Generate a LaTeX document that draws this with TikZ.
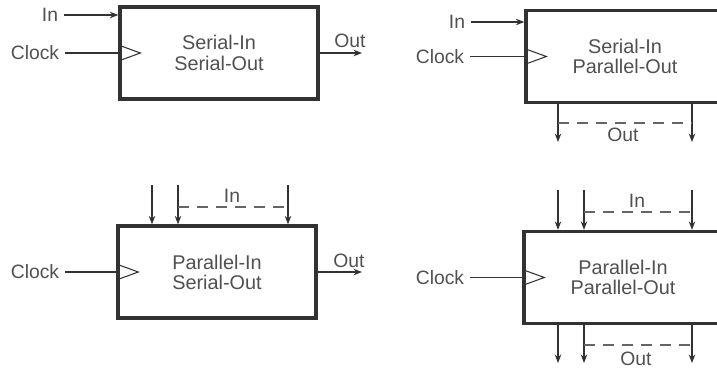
\documentclass[tikz,border=0pt]{standalone}
\usepackage{fontspec}
\setmainfont{Liberation Sans}
\usetikzlibrary{arrows.meta}
\definecolor{regink}{RGB}{50,50,50}
\definecolor{regtext}{RGB}{80,80,80}

\begin{document}
\begin{tikzpicture}[
    x=0.02cm, y=-0.02cm,
    >={Stealth[length=1.7mm,width=1.3mm]},
    reg/.style={draw=regink, line width=1.9pt, minimum width=3.96cm, minimum height=1.84cm, inner sep=0pt, align=center, text=regtext, font=\fontsize{11.3}{11.5}\selectfont},
    wire/.style={draw=regink, line width=0.6pt},
    bus/.style={draw=regink!75, line width=0.6pt, dash pattern=on 2.2mm off 1.6mm},
    clk/.style={draw=regink, line width=0.6pt},
    lbl/.style={text=regtext, font=\fontsize{11}{11}\selectfont, inner sep=3pt},
  ]

  \path[use as bounding box, clip] (0,0) rectangle (717,369);

  \def\tri{0.16cm}
  \def\tip{0.44cm}

  % (a) serial in, serial out
  \node[reg] (siso) at (219,53) {Serial-In\\Serial-Out};
  \node[lbl] (in1) at (50,15) {In};
  \node[lbl] (ck1) at (35,53) {Clock};
  \draw[wire,->] (in1) -- (in1 -| siso.west);
  \draw[wire] (ck1) -- (ck1 -| siso.west);
  \draw[clk] ([yshift=\tri]siso.west) -- ([xshift=\tip]siso.west) -- ([yshift=-\tri]siso.west);
  \coordinate (o1) at (362,53);
  \draw[wire,->] (siso.east) -- (o1);
  \node[lbl] (out1) at (350,41) {Out};

  % (b) serial in, parallel out
  \node[reg] (sipo) at (625,56.5) {Serial-In\\Parallel-Out};
  \node[lbl] (in2) at (457,22) {In};
  \node[lbl] (ck2) at (440,56.5) {Clock};
  \draw[wire,->] (in2) -- (in2 -| sipo.west);
  \draw[wire] (ck2) -- (ck2 -| sipo.west);
  \draw[clk] ([yshift=\tri]sipo.west) -- ([xshift=\tip]sipo.west) -- ([yshift=-\tri]sipo.west);
  \coordinate (so1) at (558,142);
  \coordinate (so2) at (692,142);
  \draw[wire,->] (so1 |- sipo.south) -- (so1);
  \draw[wire,->] (so2 |- sipo.south) -- (so2);
  \coordinate (sb1) at (558,123);
  \coordinate (sb2) at (692,123);
  \draw[bus] (sb1) -- (sb2);
  \node[lbl] (out2) at (623,135) {Out};

  % (c) parallel in, serial out
  \node[reg] (piso) at (217,272) {Parallel-In\\Serial-Out};
  \coordinate (pi1) at (152,185);
  \coordinate (pi2) at (178,185);
  \coordinate (pi3) at (288,185);
  \draw[wire,->] (pi1) -- (pi1 |- piso.north);
  \draw[wire,->] (pi2) -- (pi2 |- piso.north);
  \draw[wire,->] (pi3) -- (pi3 |- piso.north);
  \coordinate (pb1) at (178,207);
  \coordinate (pb2) at (288,207);
  \draw[bus] (pb1) -- (pb2);
  \node[lbl] (in3) at (232,196) {In};
  \node[lbl] (ck3) at (35,272) {Clock};
  \draw[wire] (ck3) -- (ck3 -| piso.west);
  \draw[clk] ([yshift=\tri]piso.west) -- ([xshift=\tip]piso.west) -- ([yshift=-\tri]piso.west);
  \coordinate (o3) at (362,272);
  \draw[wire,->] (piso.east) -- (o3);
  \node[lbl] (out3) at (349,261) {Out};

  % (d) parallel in, parallel out
  \node[reg] (pipo) at (623,277.5) {Parallel-In\\Parallel-Out};
  \coordinate (qi1) at (558,190);
  \coordinate (qi2) at (584,190);
  \coordinate (qi3) at (692,190);
  \draw[wire,->] (qi1) -- (qi1 |- pipo.north);
  \draw[wire,->] (qi2) -- (qi2 |- pipo.north);
  \draw[wire,->] (qi3) -- (qi3 |- pipo.north);
  \coordinate (qb1) at (584,212);
  \coordinate (qb2) at (692,212);
  \draw[bus] (qb1) -- (qb2);
  \node[lbl] (in4) at (637,201) {In};
  \node[lbl] (ck4) at (440,277.5) {Clock};
  \draw[wire] (ck4) -- (ck4 -| pipo.west);
  \draw[clk] ([yshift=\tri]pipo.west) -- ([xshift=\tip]pipo.west) -- ([yshift=-\tri]pipo.west);
  \coordinate (qo1) at (558,363);
  \coordinate (qo2) at (584,363);
  \coordinate (qo3) at (692,363);
  \draw[wire,->] (qo1 |- pipo.south) -- (qo1);
  \draw[wire,->] (qo2 |- pipo.south) -- (qo2);
  \draw[wire,->] (qo3 |- pipo.south) -- (qo3);
  \coordinate (qc1) at (584,345);
  \coordinate (qc2) at (692,345);
  \draw[bus] (qc1) -- (qc2);
  \node[lbl] (out4) at (636,359) {Out};

\end{tikzpicture}
\end{document}
